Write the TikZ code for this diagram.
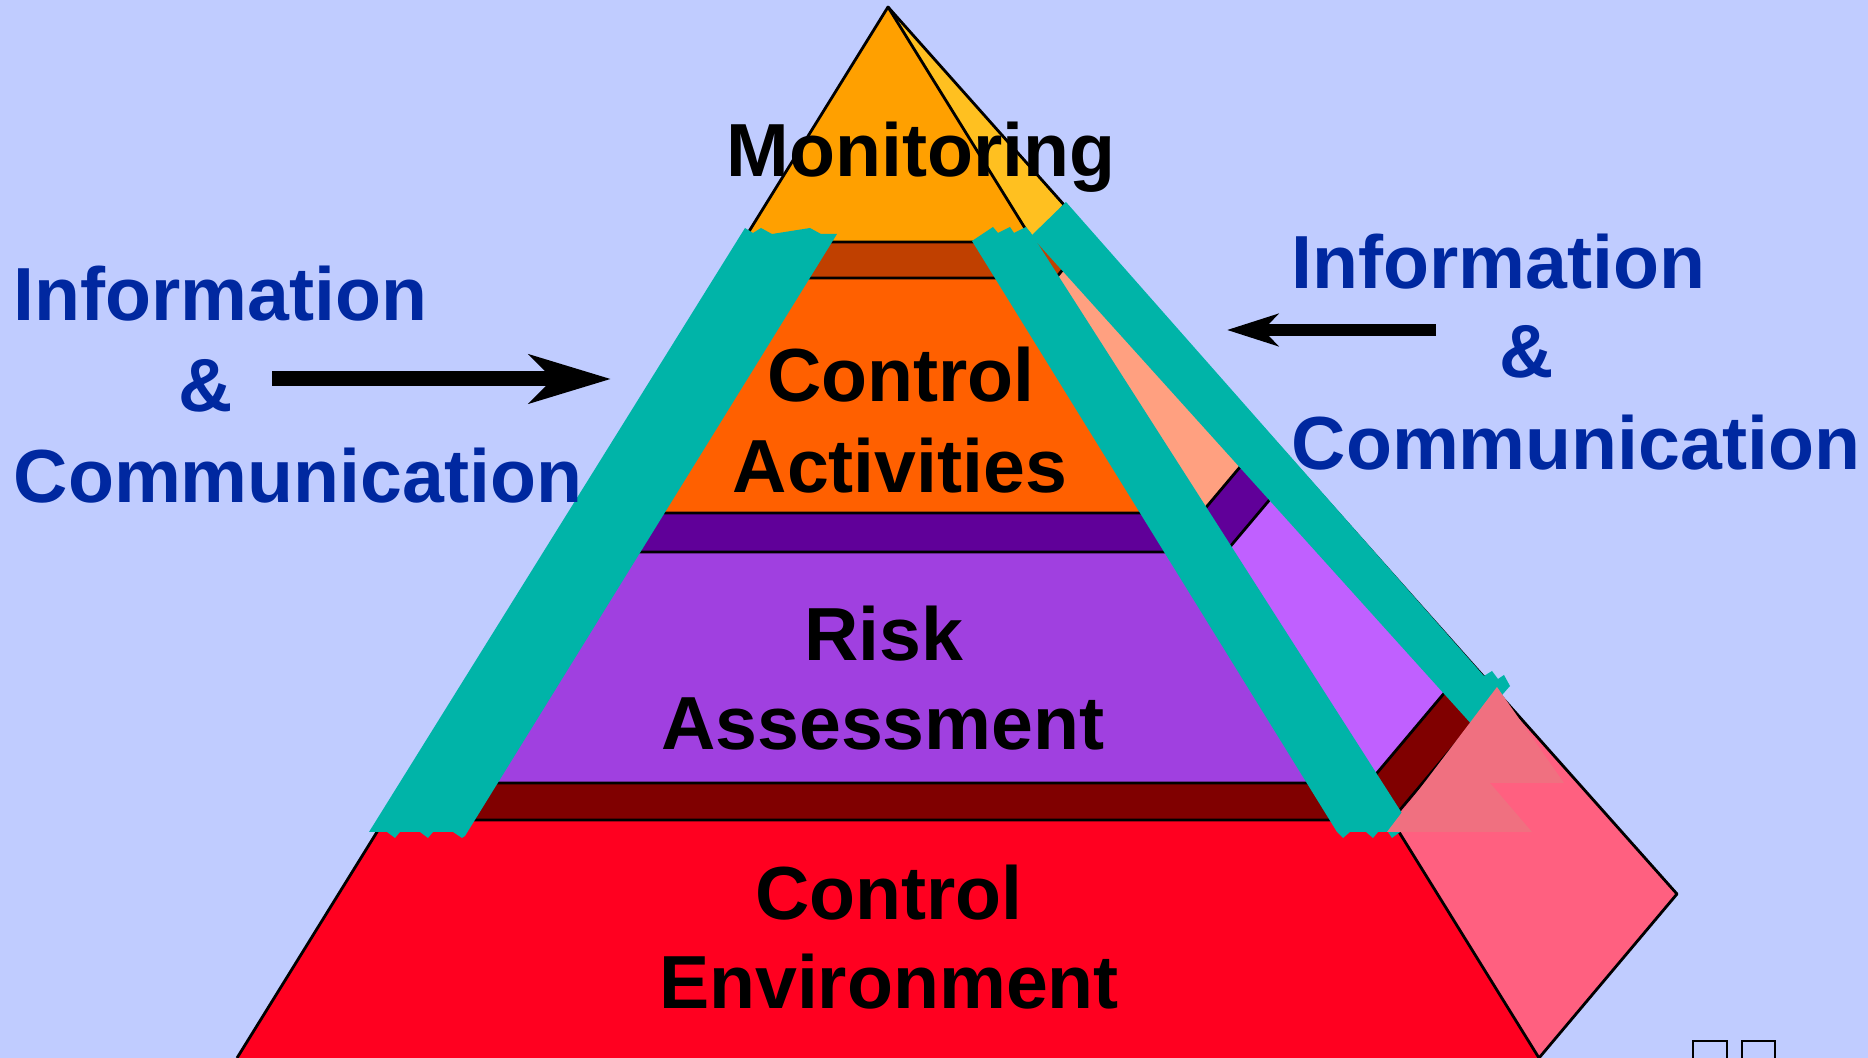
\documentclass[tikz,border=0pt]{standalone}
\usepackage{fontspec}
\setmainfont{Liberation Sans}
\usetikzlibrary{calc}
\usetikzlibrary{arrows.meta}

\definecolor{skyback}{HTML}{C0CCFF}
\definecolor{monfront}{HTML}{FFA000}
\definecolor{monside}{HTML}{FFC020}
\definecolor{rimbrown}{HTML}{C04000}
\definecolor{actfront}{HTML}{FF6000}
\definecolor{actside}{HTML}{FFA080}
\definecolor{rimpurple}{HTML}{600099}
\definecolor{riskfront}{HTML}{A040E0}
\definecolor{riskside}{HTML}{C060FF}
\definecolor{rimred}{HTML}{800000}
\definecolor{envfront}{HTML}{FF0020}
\definecolor{envside}{HTML}{FF6080}
\definecolor{patchpink}{HTML}{F07080}
\definecolor{commteal}{HTML}{00B4A8}
\definecolor{infoblue}{HTML}{0028A0}

\begin{document}
\begin{tikzpicture}[
    x=0.01cm, y=-0.01cm,
    outline/.style={draw=black, line width=0.8pt, line join=round},
    tealstrip/.style={fill=commteal, draw=none},
    layer/.style={font=\bfseries\fontsize{21.4}{25.6}\selectfont, anchor=base, inner sep=0pt},
    infotext/.style={layer, text=infoblue}
  ]
  \useasboundingbox (0,0) rectangle (1868,1058);
  \clip (0,0) rectangle (1868,1058);
  \fill[skyback] (0,0) rectangle (1868,1058);

  % corners of the pyramid
  \coordinate (apex) at (888,7);
  \coordinate (frontleft) at (237,1058);
  \coordinate (frontright) at (1539,1058);
  \coordinate (backright) at (1677,894);

  % layers from the top: start, end, front colour, side colour
  \foreach \f/\g/\cf/\cs in {0/0.2236/monfront/monside,
      0.2236/0.2578/rimbrown/rimbrown, 0.2578/0.4814/actfront/actside,
      0.4814/0.5186/rimpurple/rimpurple, 0.5186/0.7383/riskfront/riskside,
      0.7383/0.7735/rimred/rimred, 0.7735/1/envfront/envside}
  {
    \fill[\cf] ($(apex)!\f!(frontleft)$) -- ($(apex)!\g!(frontleft)$)
      -- ($(apex)!\g!(frontright)$) -- ($(apex)!\f!(frontright)$) -- cycle;
    \fill[\cs] ($(apex)!\f!(frontright)$) -- ($(apex)!\g!(frontright)$)
      -- ($(apex)!\g!(backright)$) -- ($(apex)!\f!(backright)$) -- cycle;
  }
  \foreach \g in {0.2236,0.2578,0.4814,0.5186,0.7383,0.7735}
    \draw[outline] ($(apex)!\g!(frontleft)$) -- ($(apex)!\g!(frontright)$)
      -- ($(apex)!\g!(backright)$);
  \draw[outline] (frontleft) -- (apex) -- (frontright);
  \draw[outline] (apex) -- (backright) -- (frontright);

  % information & communication strips
  \fill[tealstrip] (745,228) -- (753,233) -- (761,228) -- (772,234) -- (810,228)
    -- (821,234) -- (837,234) -- (465,836) -- (462,838) -- (453,832) -- (433,832)
    -- (428,838) -- (420,832) -- (400,832) -- (395,838) -- (387,832) -- (369,832)
    -- cycle;
  \fill[tealstrip] (972,241) -- (993,227) -- (998,233) -- (1010,227) -- (1014,233)
    -- (1026,227) -- (1031,233) -- (1414,832) -- (1400,832) -- (1392,838)
    -- (1388,832) -- (1378,832) -- (1373,838) -- (1366,832) -- (1350,832)
    -- (1343,838) -- (1337,832) -- cycle;
  \fill[tealstrip] (1031,236) -- (1066,202) -- (1484,676) -- (1492,671)
    -- (1498,679) -- (1504,675) -- (1510,686) -- (1474,727) -- cycle;
  \fill[patchpink] (1497,687) -- (1564,783) -- (1490,783) -- (1532,832)
    -- (1387,832) -- cycle;

  % layer names
  \node[layer] (monitoring) at (921,177) {Monitoring};
  \node[layer] (activities1) at (901,402) {Control};
  \node[layer] (activities2) at (900,493) {Activities};
  \node[layer] (risk1) at (884,661) {Risk};
  \node[layer] (risk2) at (883,750) {Assessment};
  \node[layer] (environment1) at (889,920) {Control};
  \node[layer] (environment2) at (889,1009) {Environment};

  % side labels
  \node[infotext, anchor=base west] (leftinfo) at (13,321) {Information};
  \node[infotext] (leftamp) at (206,412) {\&};
  \node[infotext, anchor=base west] (leftcomm) at (13,503) {Communication};
  \node[infotext, anchor=base west] (rightinfo) at (1291,289) {Information};
  \node[infotext] (rightamp) at (1527,378) {\&};
  \node[infotext, anchor=base west] (rightcomm) at (1291,470) {Communication};

  % arrows into the pyramid
  \coordinate (leftstart) at (272,379);
  \coordinate (lefttip) at (611,379);
  \coordinate (rightstart) at (1436,330);
  \coordinate (righttip) at (1227,330);
  \draw[line width=0.15cm, -{Stealth[length=0.81cm, width=0.48cm, inset=0.23cm]}]
    (leftstart) -- (lefttip);
  \draw[line width=0.12cm, -{Stealth[length=0.51cm, width=0.32cm, inset=0.15cm]}]
    (rightstart) -- (righttip);

  % two empty boxes at the lower edge
  \draw[line width=0.55pt] (1693,1041) rectangle (1727,1080);
  \draw[line width=0.55pt] (1742,1041) rectangle (1775,1080);
\end{tikzpicture}
\end{document}
